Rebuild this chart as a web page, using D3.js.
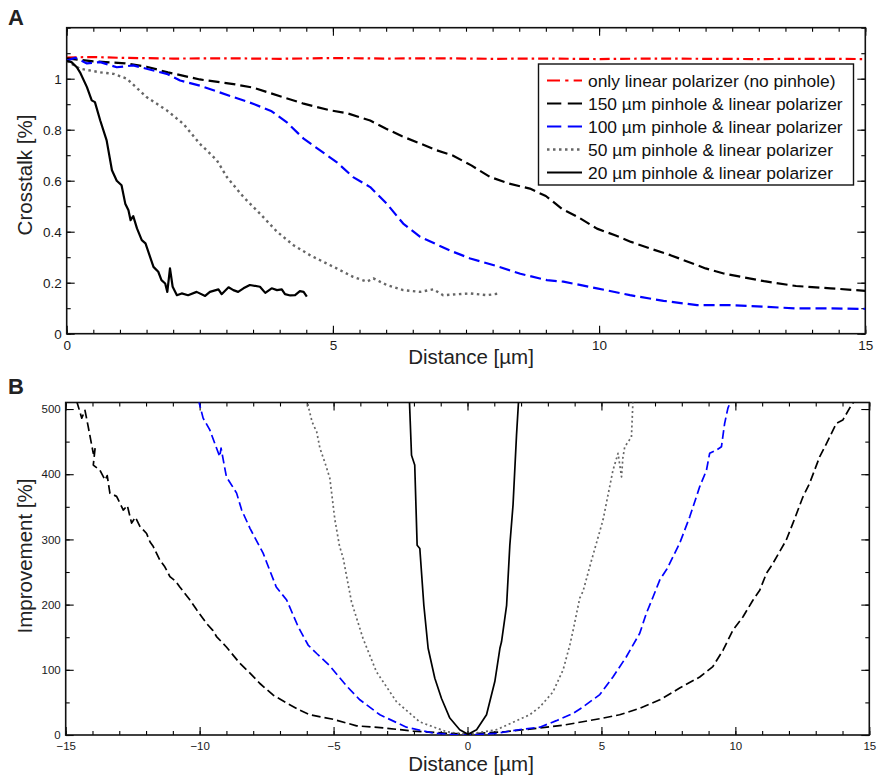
<!DOCTYPE html>
<html>
<head>
<meta charset="utf-8">
<script src="https://cdn.jsdelivr.net/npm/d3@7"></script>
<style>
  body { margin: 0; background: #fff; }
  svg { font-family: "Liberation Sans", Arial, Helvetica, sans-serif; }
</style>
</head>
<body>
<div id="chart"></div>
<script>
// ---- Panel A: crosstalk [%] vs distance [um] ----
const ctNoPinhole = [[0,1.083],[0.5,1.085],[1,1.082],[2,1.079],[3,1.08],[4,1.078],[5,1.081],[6,1.079],[7,1.08],[8,1.078],[9,1.079],[10,1.077],[11,1.079],[12,1.078],[13,1.077],[14,1.078],[15,1.077]];
const ct150 = [[0,1.08],[0.5,1.068],[1.1,1.06],[1.5,1.047],[1.9,1.025],[2.5,0.997],[3.1,0.98],[3.5,0.965],[3.8,0.945],[4.1,0.925],[4.45,0.902],[4.95,0.876],[5.26,0.865],[5.7,0.836],[6.0,0.804],[6.3,0.774],[6.65,0.745],[6.95,0.719],[7.25,0.699],[7.6,0.66],[7.95,0.615],[8.3,0.589],[8.7,0.569],[9.0,0.54],[9.3,0.49],[9.6,0.458],[9.96,0.412],[10.3,0.386],[10.6,0.36],[10.96,0.334],[11.34,0.308],[12.0,0.256],[12.34,0.236],[13.1,0.206],[13.7,0.187],[14.35,0.178],[15,0.168]];
const ct100 = [[0,1.071],[0.16,1.082],[0.38,1.06],[0.63,1.065],[0.94,1.045],[1.25,1.052],[1.5,1.039],[1.88,1.019],[2.13,0.993],[2.5,0.973],[3.13,0.928],[3.5,0.902],[3.85,0.872],[4.13,0.83],[4.45,0.765],[4.76,0.719],[5.07,0.673],[5.38,0.614],[5.70,0.575],[6.01,0.51],[6.32,0.432],[6.64,0.38],[6.95,0.35],[7.26,0.321],[7.58,0.295],[8.08,0.265],[8.52,0.235],[9.02,0.21],[9.33,0.204],[9.96,0.178],[10.58,0.151],[11.21,0.129],[11.84,0.112],[12.46,0.112],[13.09,0.106],[13.71,0.099],[14.34,0.099],[15,0.097]];
const ct50 = [[0,1.07],[0.25,1.039],[0.63,1.025],[0.88,1.019],[1.13,1.0],[1.5,0.928],[1.88,0.876],[2.19,0.823],[2.5,0.745],[2.65,0.715],[2.82,0.68],[3.01,0.614],[3.32,0.536],[3.63,0.471],[3.95,0.40],[4.26,0.347],[4.57,0.308],[4.76,0.288],[5.07,0.256],[5.38,0.223],[5.64,0.204],[5.76,0.217],[6.01,0.191],[6.32,0.171],[6.64,0.164],[6.89,0.174],[7.07,0.151],[7.58,0.158],[7.89,0.151],[8.14,0.158]];
const ct20 = [[0,1.07],[0.09,1.065],[0.19,1.045],[0.25,1.025],[0.38,0.967],[0.47,0.915],[0.53,0.908],[0.63,0.836],[0.75,0.758],[0.85,0.641],[0.94,0.60],[1.03,0.582],[1.10,0.51],[1.16,0.484],[1.20,0.445],[1.25,0.461],[1.32,0.413],[1.41,0.367],[1.48,0.354],[1.63,0.262],[1.72,0.243],[1.78,0.21],[1.85,0.197],[1.89,0.164],[1.94,0.256],[1.99,0.184],[2.07,0.151],[2.16,0.158],[2.28,0.151],[2.44,0.164],[2.60,0.148],[2.69,0.164],[2.85,0.174],[2.91,0.155],[3.04,0.182],[3.13,0.171],[3.22,0.164],[3.32,0.178],[3.44,0.191],[3.63,0.184],[3.73,0.16],[3.85,0.178],[3.95,0.171],[4.04,0.174],[4.10,0.155],[4.20,0.15],[4.29,0.151],[4.38,0.167],[4.45,0.164],[4.51,0.145]];

// ---- Panel B: improvement [%] vs distance [um] ----
const imp150 = [[-14.59,512],[-14.40,486],[-14.28,498],[-14.16,473],[-13.97,432],[-13.9,441],[-13.97,414],[-13.72,406],[-13.53,391],[-13.45,398],[-13.35,371],[-13.10,366],[-12.85,345],[-12.7,352],[-12.54,325],[-12.4,334],[-12.23,320],[-11.98,309],[-11.85,296],[-11.73,289],[-11.48,268],[-11.3,258],[-11.11,243],[-10.9,236],[-10.74,227],[-10.36,207],[-10.11,192],[-9.74,171],[-9.5,160],[-9.37,151],[-9.0,135],[-8.50,110],[-8.12,95],[-7.75,79],[-7.25,61],[-6.75,49],[-6.26,38],[-5.88,31],[-5.0,24],[-4.14,14],[-3.15,11],[-2.03,6],[-0.9,3],[0,1],[0.46,2.6],[1.4,5],[2.32,9],[3.57,15],[4.94,25],[5.68,31],[6.43,41],[7.18,54],[7.92,72],[8.67,89],[9.16,105],[9.54,130],[9.91,161],[10.28,181],[10.66,207],[10.91,222],[11.16,248],[11.40,263],[11.90,299],[12.15,325],[12.52,365],[12.77,386],[13.15,427],[13.40,447],[13.77,478],[14.01,483],[14.33,506],[14.5,515]];
const imp100 = [[-10.05,515],[-9.87,486],[-9.62,468],[-9.25,427],[-9.2,440],[-9.0,396],[-8.62,371],[-8.43,345],[-8.12,317],[-7.63,279],[-7.5,265],[-7.14,227],[-6.75,207],[-6.32,166],[-5.95,138],[-5.63,125],[-5.14,106],[-4.51,75],[-4.02,54],[-3.27,31],[-2.28,12],[-1.28,3],[-0.5,0.5],[0,0],[1.08,2.6],[2.07,9],[2.70,12],[3.32,22],[3.94,33],[4.31,43],[4.94,62],[5.43,89],[5.93,120],[6.43,156],[6.68,187],[6.93,212],[7.18,238],[7.45,255],[7.92,294],[8.30,335],[8.67,381],[8.92,406],[9.04,432],[9.29,437],[9.48,442],[9.60,478],[9.72,501],[9.85,515]];
const imp50 = [[-5.98,515],[-5.95,505],[-5.80,480],[-5.63,465],[-5.51,440],[-5.30,415],[-5.14,394],[-4.95,330],[-4.78,290],[-4.64,271],[-4.33,204],[-3.90,148],[-3.40,97],[-2.65,51],[-1.78,20],[-0.78,5],[0,1],[1.08,8],[2.32,31],[2.70,43],[3.19,66],[3.57,100],[3.82,138],[3.94,160],[4.19,210],[4.31,220],[4.63,268],[5.06,330],[5.43,406],[5.62,432],[5.75,396],[5.80,425],[5.87,442],[6.12,457],[6.18,515]];
const imp20 = [[-2.17,515],[-2.09,429],[-1.97,414],[-1.88,291],[-1.78,286],[-1.63,199],[-1.47,133],[-1.22,87],[-0.97,56],[-0.66,26],[-0.29,8],[0.02,1],[0.34,8],[0.71,31],[1.02,82],[1.21,133],[1.27,143],[1.46,199],[1.58,291],[1.70,353],[1.83,460],[1.91,515]];

const legendLabels = [
  "only linear polarizer (no pinhole)",
  "150 \u00b5m pinhole & linear polarizer",
  "100 \u00b5m pinhole & linear polarizer",
  "50 \u00b5m pinhole & linear polarizer",
  "20 \u00b5m pinhole & linear polarizer"
];

const width = 879, height = 780;
const font = '"Liberation Sans", Arial, Helvetica, sans-serif';

// line styles (same order as legend)
const styles = [
  {color: "#ff0000", dash: "10,4,2.5,4", w: 2.2},
  {color: "#000000", dash: "11,5", w: 2.2},
  {color: "#0000ff", dash: "11,5", w: 2.2},
  {color: "#666666", dash: "2.5,3.5", w: 2.4},
  {color: "#000000", dash: null, w: 2.2}
];

const svg = d3.select("#chart").append("svg")
  .attr("width", width)
  .attr("height", height)
  .attr("viewBox", [0, 0, width, height]);

function drawPanel(opts) {
  const {x, y, xMajor, xMinor, yMajor, yMinor, fontSize, id} = opts;
  const [x0, x1] = x.range();
  const [yb, yt] = y.range();

  svg.append("clipPath").attr("id", id)
    .append("rect").attr("x", x0).attr("y", yt).attr("width", x1 - x0).attr("height", yb - yt);

  const fmt = d3.format("~g");
  // minor ticks (inward, all four sides)
  const minor = [
    [d3.axisBottom(x).tickValues(xMinor), `translate(0,${yb})`],
    [d3.axisTop(x).tickValues(xMinor), `translate(0,${yt})`],
    [d3.axisLeft(y).tickValues(yMinor), `translate(${x0},0)`],
    [d3.axisRight(y).tickValues(yMinor), `translate(${x1},0)`]
  ];
  minor.forEach(([ax, tr]) => {
    svg.append("g").attr("transform", tr)
      .call(ax.tickSize(-4).tickFormat(""))
      .call(g => g.select(".domain").remove())
      .call(g => g.selectAll(".tick line").attr("stroke-width", 1.1));
  });
  // major ticks
  svg.append("g").attr("transform", `translate(0,${yb})`)
    .call(d3.axisBottom(x).tickValues(xMajor).tickSize(-8).tickFormat(fmt))
    .call(g => g.select(".domain").remove())
    .call(g => g.selectAll(".tick line").attr("stroke-width", 1.1))
    .call(g => g.selectAll("text").attr("font-size", fontSize).attr("font-family", font)
      .attr("fill", "#1a1a1a").attr("dy", "0.75em").attr("y", 6));
  svg.append("g").attr("transform", `translate(0,${yt})`)
    .call(d3.axisTop(x).tickValues(xMajor).tickSize(-8).tickFormat(""))
    .call(g => g.select(".domain").remove())
    .call(g => g.selectAll(".tick line").attr("stroke-width", 1.1));
  svg.append("g").attr("transform", `translate(${x0},0)`)
    .call(d3.axisLeft(y).tickValues(yMajor).tickSize(-8).tickFormat(fmt))
    .call(g => g.select(".domain").remove())
    .call(g => g.selectAll(".tick line").attr("stroke-width", 1.1))
    .call(g => g.selectAll("text").attr("font-size", fontSize).attr("font-family", font)
      .attr("fill", "#1a1a1a").attr("x", -5));
  svg.append("g").attr("transform", `translate(${x1},0)`)
    .call(d3.axisRight(y).tickValues(yMajor).tickSize(-8).tickFormat(""))
    .call(g => g.select(".domain").remove())
    .call(g => g.selectAll(".tick line").attr("stroke-width", 1.1));

  // box
  svg.append("rect")
    .attr("x", x0).attr("y", yt).attr("width", x1 - x0).attr("height", yb - yt)
    .attr("fill", "none").attr("stroke", "#111").attr("stroke-width", 1.6);
}

function drawSeries(series, x, y, clipId, w, dashScale) {
  const line = d3.line().x(d => x(d[0])).y(d => y(d[1]));
  const g = svg.append("g").attr("clip-path", `url(#${clipId})`);
  series.forEach(([data, st]) => {
    g.append("path")
      .attr("d", line(data))
      .attr("fill", "none")
      .attr("stroke", st.color)
      .attr("stroke-width", w || st.w)
      .attr("stroke-linejoin", "round")
      .attr("stroke-dasharray", st.dash ? (dashScale ? st.dash.split(",").map(v => +v * dashScale).join(",") : st.dash) : null);
  });
}

// ---------- Panel A ----------
const xA = d3.scaleLinear([0, 15], [66.7, 865.3]);
const yA = d3.scaleLinear([0, 1.2], [333.7, 27.7]);
drawPanel({
  x: xA, y: yA, id: "clipA", fontSize: 13.5,
  xMajor: [0, 5, 10, 15], xMinor: d3.range(0, 15.01, 0.5),
  yMajor: [0, 0.2, 0.4, 0.6, 0.8, 1], yMinor: d3.range(0, 1.21, 0.1)
});
drawSeries([
  [ctNoPinhole, styles[0]],
  [ct150, styles[1]],
  [ct100, styles[2]],
  [ct50, styles[3]],
  [ct20, styles[4]]
], xA, yA, "clipA");

// legend
const legend = svg.append("g");
legend.append("rect")
  .attr("x", 538.5).attr("y", 64).attr("width", 315).attr("height", 121)
  .attr("fill", "#fff").attr("stroke", "#111").attr("stroke-width", 1.4);
legendLabels.forEach((lab, i) => {
  const cy = 80.5 + i * 23;
  const st = styles[i];
  legend.append("line")
    .attr("x1", 547).attr("x2", 582).attr("y1", cy).attr("y2", cy)
    .attr("stroke", st.color).attr("stroke-width", st.w)
    .attr("stroke-dasharray", st.dash ? st.dash.split(",").map(v => i === 3 ? v : +v * 1.3).join(",") : null);
  legend.append("text")
    .attr("x", 588).attr("y", cy + 6)
    .attr("font-size", 17.4).attr("fill", "#111")
    .text(lab);
});

// axis labels A
svg.append("text").attr("x", 471).attr("y", 363.5).attr("text-anchor", "middle")
  .attr("font-size", 20.5).attr("fill", "#222").text("Distance [\u00b5m]");
svg.append("text").attr("transform", "translate(31.5,175) rotate(-90)").attr("text-anchor", "middle")
  .attr("font-size", 20.5).attr("fill", "#222").text("Crosstalk [%]");
svg.append("text").attr("x", 8).attr("y", 24.5).attr("font-size", 22).attr("font-weight", "bold")
  .attr("fill", "#222").text("A");

// ---------- Panel B ----------
const xB = d3.scaleLinear([-15, 15], [65.7, 869.3]);
const yB = d3.scaleLinear([0, 510], [735, 402.5]);
drawPanel({
  x: xB, y: yB, id: "clipB", fontSize: 11.5,
  xMajor: d3.range(-15, 15.01, 5), xMinor: d3.range(-15, 15.01, 1),
  yMajor: d3.range(0, 501, 100), yMinor: d3.range(0, 501, 50)
});
drawSeries([
  [imp150, styles[1]],
  [imp100, styles[2]],
  [imp50, styles[3]],
  [imp20, styles[4]]
], xB, yB, "clipB", 1.7, 0.8);

svg.append("text").attr("x", 471).attr("y", 771).attr("text-anchor", "middle")
  .attr("font-size", 20.5).attr("fill", "#222").text("Distance [\u00b5m]");
svg.append("text").attr("transform", "translate(32,556) rotate(-90)").attr("text-anchor", "middle")
  .attr("font-size", 20.5).attr("fill", "#222").text("Improvement [%]");
svg.append("text").attr("x", 8).attr("y", 394).attr("font-size", 22).attr("font-weight", "bold")
  .attr("fill", "#222").text("B");
</script>
</body>
</html>
